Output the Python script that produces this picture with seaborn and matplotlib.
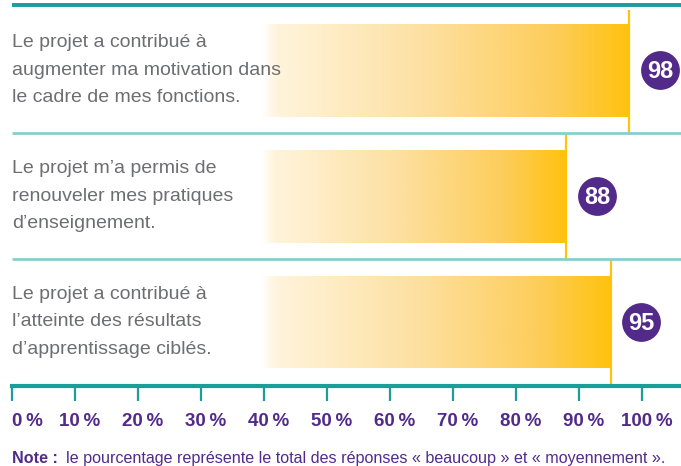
import numpy as np
import matplotlib
matplotlib.use("Agg")
import matplotlib.pyplot as plt
from matplotlib import font_manager
from matplotlib.colors import LinearSegmentedColormap
from matplotlib.transforms import ScaledTranslation
import seaborn as sns

labels = [
    "Le projet a contribué à\naugmenter ma motivation dans\nle cadre de mes fonctions.",
    "Le projet m’a permis de\nrenouveler mes pratiques\nd’enseignement.",
    "Le projet a contribué à\nl’atteinte des résultats\nd’apprentissage ciblés.",
]
values = [98, 88, 95]
ticks = list(range(0, 101, 10))
tick_labels = [f"{t}\u2009%" for t in ticks]
note_bold = "Note :"
note_text = "le pourcentage représente le total des réponses « beaucoup » et « moyennement »."

TEAL = "#1a9e9a"
TEAL_LIGHT = "#86d0cc"
GOLD = "#ffc20e"
PURPLE = "#522a8a"
GRAY = "#6d6e71"

sns.set_style("white")


def pick_font():
    try:
        font_manager.findfont("Liberation Sans Narrow", fallback_to_default=False)
        return "Liberation Sans Narrow", 1.15
    except Exception:
        return "Liberation Sans", 1.0


FONT, k = pick_font()
plt.rcParams["font.family"] = [FONT, "DejaVu Sans"]

fig = plt.figure(figsize=(6.81, 4.66), dpi=100)
ax = fig.add_axes([0, 0, 1, 1])

# 6.3 px per percent, 0 % at x = 12 px
xmin, xmax = -12 / 6.3, (681 - 12) / 6.3
# category i centred at 70 + 126 * i px
ytop, ybot = -70 / 126, (466 - 70) / 126

sns.barplot(x=values, y=labels, orient="h", color=GOLD, width=93 / 126, ax=ax)
ax.set_xlim(xmin, xmax)
ax.set_ylim(ybot, ytop)

cmap = LinearSegmentedColormap.from_list(
    "fade", [(0, "#ffffff"), (0.04, "#fff4dc"), (0.45, "#fde0a0"), (0.8, "#fdcd5a"), (1, GOLD)]
)
start = 39.5
for patch, v in zip(ax.patches, values):
    x0, y0 = patch.get_x(), patch.get_y()
    w, h = patch.get_width(), patch.get_height()
    xs = np.linspace(x0, x0 + w, 600)
    frac = np.clip((xs - start) / (v - start), 0, 1)
    img = cmap(frac)[np.newaxis, :, :]
    img[0, xs < start, 3] = 0
    patch.set_facecolor("none")
    patch.set_edgecolor("none")
    im = ax.imshow(img, extent=[x0, x0 + w, y0 + h, y0], aspect="auto",
                   interpolation="bilinear", zorder=1)
    im.set_clip_path(patch)

# separators and top line
ax.hlines(-0.516, 0, xmax, color=TEAL, lw=2.8, zorder=3)
ax.hlines([0.5, 1.5], 0, xmax, color=TEAL_LIGHT, lw=2, zorder=3)

# vertical markers at the bar ends
bounds = [-0.5, 0.5, 1.5, 2.508]
for i, v in enumerate(values):
    ax.vlines(v, bounds[i] + (0.02 if i == 0 else 0), bounds[i + 1], color=GOLD, lw=1.6, zorder=2)

# labels on the left
for i, lab in enumerate(labels):
    ax.text(0, i, lab, ha="left", va="center", fontsize=14 * k,
            color=GRAY, linespacing=1.8, zorder=4)

# value bubbles
ax.scatter([v + 4.9 for v in values], range(len(values)), s=780, color=PURPLE, zorder=5,
           linewidths=0)
for i, v in enumerate(values):
    ax.text(v + 4.9, i + 0.01, str(v), ha="center", va="center", color="white",
            fontsize=17 * k, fontweight="bold", zorder=6)

# bottom axis
for s in ["top", "left", "right"]:
    ax.spines[s].set_visible(False)
ax.spines["bottom"].set_position(("data", 2.508))
ax.spines["bottom"].set_bounds(0, xmax)
ax.spines["bottom"].set_color(TEAL)
ax.spines["bottom"].set_linewidth(3)
ax.set_yticks([])
ax.set_xticks(ticks)
ax.set_xticklabels(tick_labels, fontweight="bold", color=PURPLE, fontsize=13.5 * k)
ax.tick_params(axis="x", direction="out", length=10.8, width=1.6, color=TEAL, pad=8.5,
               bottom=True)
shift = ScaledTranslation(5 / 100, 0, fig.dpi_scale_trans)
for j, tl in enumerate(ax.get_xticklabels()):
    if j == 0:
        tl.set_horizontalalignment("left")
    else:
        tl.set_transform(tl.get_transform() + shift)
ax.set_xlabel("")
ax.set_ylabel("")

# note
nfs = 11.6 * k
ny = (458 - 70) / 126
t = ax.text(0, ny, note_bold, ha="left", va="center", fontsize=nfs,
            fontweight="bold", color=PURPLE)
fig.canvas.draw()
bb = t.get_window_extent()
x_after = ax.transData.inverted().transform((bb.x1 + 8, 0))[0]
ax.text(x_after, ny, note_text, ha="left", va="center", fontsize=nfs, color=PURPLE)

fig.savefig("out.png", dpi=100)
